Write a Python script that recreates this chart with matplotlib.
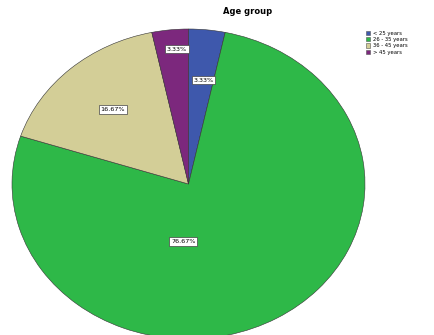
import matplotlib.pyplot as plt
from matplotlib.patches import Patch

groups = ["< 25 years", "26 - 35 years", "36 - 45 years", "> 45 years"]
counts = [1, 23, 5, 1]
colors = ["#3E58AC", "#2EB848", "#D3CE97", "#7C287D"]
# label positions inside the pie (axes data units), as SPSS placed them
label_pos = [(0.085, 0.67), (-0.03, -0.37), (-0.43, 0.48), (-0.065, 0.87)]

fig = plt.figure(figsize=(4.35, 3.35), dpi=100)
ax = fig.add_axes([12 / 435, -4 / 335, 353 / 435, 310 / 335])

total = sum(counts)
wedges, _ = ax.pie(counts, colors=colors, startangle=90, counterclock=False,
                   wedgeprops=dict(edgecolor="#333333", linewidth=0.4))
ax.set_aspect("auto")
ax.set_xlim(-1, 1)
ax.set_ylim(-1, 1)
ax.axis("off")

for c, (x, y) in zip(counts, label_pos):
    ax.text(x, y, f"{100 * c / total:.2f}%", fontsize=4.6, ha="center", va="center",
            bbox=dict(facecolor="white", edgecolor="#444444", linewidth=0.5, pad=1.2))

fig.text(248 / 435, 1 - 12 / 335, "Age group", fontsize=6, fontweight="bold",
         ha="center", va="center")

handles = [Patch(facecolor=col, edgecolor="#555555", linewidth=0.4) for col in colors]
fig.legend(handles, groups, loc="upper left", bbox_to_anchor=(362 / 435, 1 - 27 / 335),
           fontsize=3.8, frameon=False, handlelength=0.9, handleheight=0.9,
           handletextpad=0.4, labelspacing=0.25, borderpad=0.2)

fig.savefig("out.png", dpi=100)
